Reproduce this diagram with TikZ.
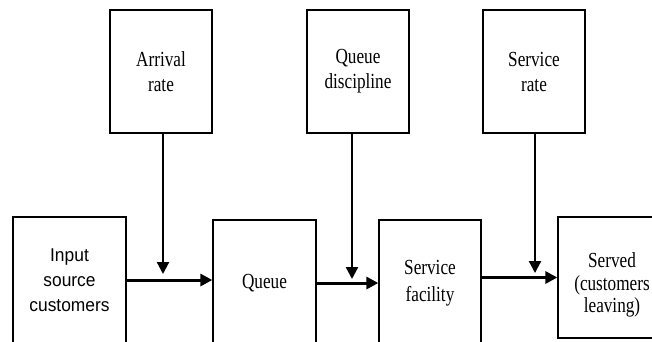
\documentclass[tikz,border=0pt]{standalone}
\usepackage{fontspec}
\setmainfont{Liberation Serif}[FakeStretch=0.8]
\newfontfamily\arialfont{Liberation Sans}[FakeStretch=0.94]
\usetikzlibrary{arrows.meta}
\begin{document}
\begin{tikzpicture}[x=1pt,y=-1pt,>={Triangle[length=12pt,width=12pt]},
  box/.style={draw,line width=1.3pt,align=center,inner sep=0pt,minimum width=102pt,font=\fontsize{21.5}{25}\selectfont},
  txt/.style={align=center,inner sep=0pt,font=\fontsize{21.5}{22.5}\selectfont},
  vline/.style={->,line width=2.2pt},
  hline/.style={->,line width=3pt}]
\useasboundingbox (0,0) rectangle (652,341);
\clip (0,0) rectangle (652,341);
% top row: the parameters
\node [box,minimum height=123pt] (arr) at (161,71.5) {Arrival\\rate};
\node [box,minimum height=123pt] (disc) at (358,71.5) {Queue\\discipline};
\node [box,minimum height=123pt] (srate) at (534,71.5) {Service\\rate};
% bottom row: the flow of customers
\node [box,minimum width=113pt,minimum height=126pt,font=\arialfont\fontsize{18.5}{25}\selectfont] (input) at (69.5,280) {Input\\source\\customers};
\node [box,minimum width=103pt,minimum height=126pt] (queue) at (264.5,283) {Queue};
\node [box,minimum height=126pt,font=\fontsize{21.5}{27}\selectfont] (facility) at (430,283) {Service\\facility};
\node [box,minimum width=108pt,minimum height=121pt] (served) at (612,277.5) {};
\node [txt] (servedtxt) at (612,285) {Served\\(customers\\leaving)};
% tips of the vertical arrows
\coordinate (jA) at (163,274);
\coordinate (jB) at (352,279);
\coordinate (jC) at (535,273);
\draw [vline] (arr.south -| jA) -- (jA);
\draw [vline] (disc.south -| jB) -- (jB);
\draw [vline] (srate.south -| jC) -- (jC);
% horizontal arrows
\draw [hline] (input.east) -- (input.east -| queue.west);
\draw [hline] (queue.east) -- (queue.east -| facility.west);
\draw [hline] (facility.east |- served) -- (served.west);
\end{tikzpicture}
\end{document}
